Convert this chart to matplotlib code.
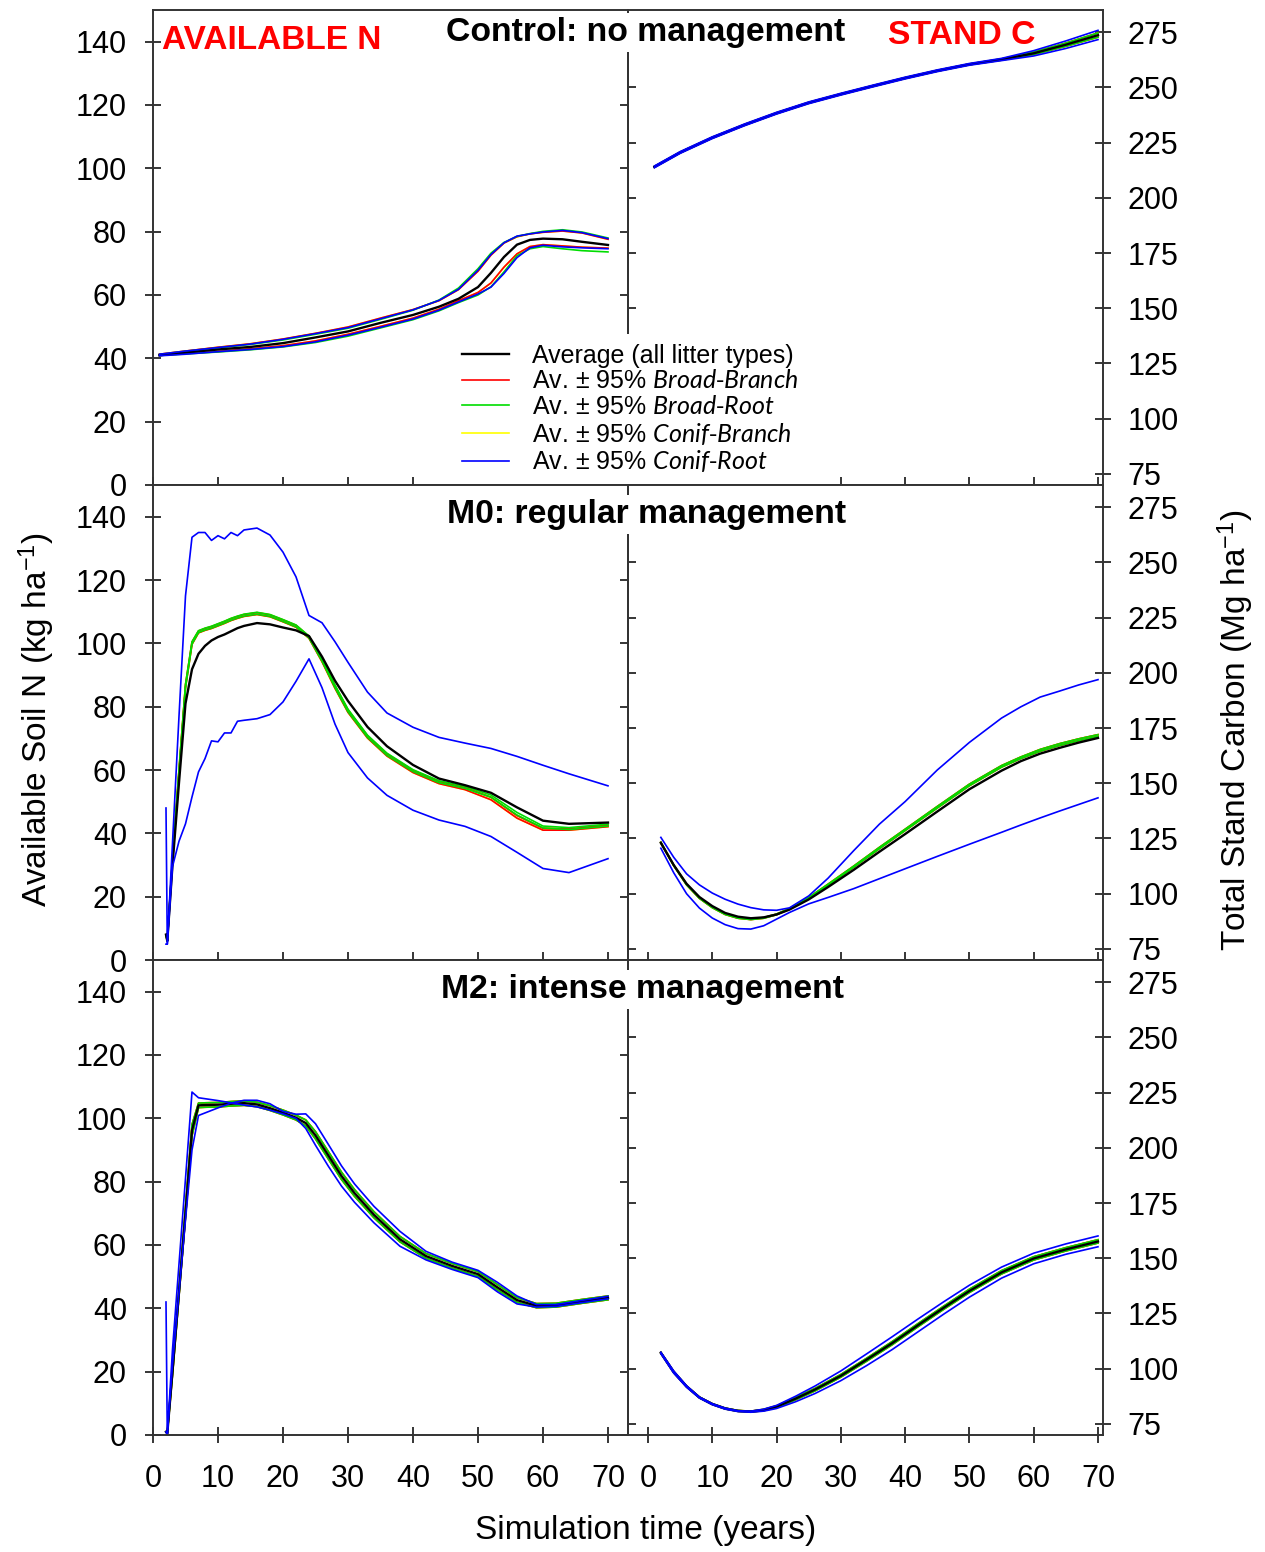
import matplotlib
matplotlib.use('Agg')
import matplotlib.pyplot as plt
from matplotlib.lines import Line2D
from matplotlib.patches import Rectangle

plt.rcParams['font.family'] = ['Liberation Sans', 'DejaVu Sans']
plt.rcParams['mathtext.fontset'] = 'custom'
plt.rcParams['mathtext.rm'] = 'Liberation Sans'
plt.rcParams['mathtext.it'] = 'Lato:italic'
plt.rcParams['mathtext.bf'] = 'Liberation Sans:bold'

# ---------------- Control: available N ----------------
ctl_nx = [1, 5, 10, 15, 20, 25, 30, 35, 40, 44, 47, 50, 52, 54, 56, 58, 60, 63, 66, 70]
ctl_n_avg = [41.0, 41.8, 42.8, 43.6, 44.8, 46.6, 48.5, 51.2, 53.7, 56.3, 58.8, 62.5, 67.0, 72.0, 75.9, 77.4, 77.8, 77.6, 76.8, 75.8]
ctl_n_red_hi = [41.3, 42.3, 43.5, 44.6, 46.1, 47.9, 49.9, 52.7, 55.4, 58.2, 61.7, 67.5, 72.6, 76.4, 78.4, 79.3, 79.8, 80.2, 79.6, 77.6]
ctl_n_red_lo = [40.9, 41.5, 42.2, 43.0, 44.0, 45.5, 47.6, 50.1, 52.7, 55.5, 58.2, 60.8, 63.8, 68.8, 73.0, 75.3, 75.9, 75.5, 75.1, 74.8]
ctl_n_green_hi = [41.2, 42.2, 43.3, 44.4, 45.8, 47.6, 49.5, 52.3, 55.2, 58.4, 62.2, 68.3, 73.2, 76.6, 78.5, 79.4, 80.1, 80.6, 79.9, 78.0]
ctl_n_green_lo = [40.9, 41.4, 42.0, 42.7, 43.6, 45.0, 47.0, 49.6, 52.2, 55.0, 57.6, 60.0, 62.6, 67.3, 72.4, 74.6, 75.3, 74.6, 74.0, 73.6]
ctl_n_yel_hi = ctl_n_red_hi   # yellow lies under the red lines
ctl_n_yel_lo = ctl_n_red_lo
ctl_n_blue_hi = [41.3, 42.3, 43.4, 44.5, 46.0, 47.8, 49.7, 52.5, 55.3, 58.3, 61.8, 67.8, 72.8, 76.5, 78.6, 79.3, 79.9, 80.4, 79.7, 77.8]
ctl_n_blue_lo = [40.8, 41.3, 42.1, 42.8, 43.7, 45.2, 47.3, 49.8, 52.4, 55.2, 57.8, 60.3, 62.5, 66.8, 71.8, 74.9, 75.7, 75.2, 74.9, 74.6]

# ---------------- Control: stand carbon ----------------
ctl_cx = [1, 5, 10, 15, 20, 25, 30, 35, 40, 45, 50, 55, 60, 65, 70]
ctl_c_avg = [214.0, 220.5, 227.2, 233.0, 238.3, 243.0, 246.9, 250.6, 254.2, 257.5, 260.4, 262.6, 265.4, 269.3, 273.6]
ctl_c_green_hi = [214.2, 220.7, 227.4, 233.2, 238.5, 243.2, 247.1, 250.8, 254.4, 257.7, 260.6, 262.9, 265.9, 270.0, 274.6]
ctl_c_green_lo = [213.8, 220.3, 227.0, 232.8, 238.1, 242.8, 246.7, 250.4, 254.0, 257.3, 260.2, 262.3, 264.9, 268.6, 272.7]
ctl_c_red_hi = ctl_c_green_hi
ctl_c_red_lo = ctl_c_green_lo
ctl_c_yel_hi = ctl_c_green_hi
ctl_c_yel_lo = ctl_c_green_lo
ctl_c_blue_hi = [214.4, 220.9, 227.6, 233.4, 238.7, 243.4, 247.3, 251.0, 254.6, 257.9, 260.8, 263.1, 266.6, 271.0, 275.8]
ctl_c_blue_lo = [213.6, 220.1, 226.8, 232.6, 237.9, 242.6, 246.5, 250.2, 253.8, 257.1, 260.0, 262.1, 264.2, 267.6, 271.6]

# ---------------- M0: available N ----------------
m0_nx = [2, 2.2, 3, 4, 5, 6, 7, 8, 9, 10, 11, 12, 13, 14, 16, 18, 20, 22, 24, 26, 28, 30, 33, 36, 40, 44, 48, 52, 56, 60, 64, 70]
m0_n_avg = [8, 6, 30, 56, 81, 91.8, 96.7, 99.2, 100.9, 102.0, 102.8, 103.8, 104.8, 105.5, 106.4, 106.0, 105.0, 104.1, 102.3, 95.8,
            88.2, 81.8, 73.6, 67.5, 61.6, 57.3, 55.2, 52.8, 48.2, 44.0, 43.0, 43.4]
m0_n_red_hi = [8, 6, 32, 60, 87, 100.4, 103.9, 104.7, 105.3, 106.1, 106.9, 107.8, 108.5, 109.1, 109.7, 109.0, 107.4, 105.7, 102.2, 95.0,
               86.6, 79.0, 70.8, 65.1, 59.9, 56.4, 54.5, 51.4, 45.6, 41.6, 41.4, 42.6]
m0_n_red_lo = [8, 6, 31, 59, 86, 99.7, 103.3, 104.1, 104.7, 105.5, 106.3, 107.2, 107.9, 108.5, 109.1, 108.4, 106.8, 105.1, 101.6, 94.2,
               85.8, 78.2, 70.1, 64.4, 59.2, 55.7, 53.8, 50.6, 44.8, 41.0, 41.0, 42.1]
m0_n_green_hi = [8, 6, 32, 60, 87, 100.5, 104.0, 104.8, 105.4, 106.2, 107.0, 107.9, 108.6, 109.2, 109.8, 109.1, 107.5, 105.8, 102.3, 95.2,
                 86.8, 79.2, 71.0, 65.3, 60.1, 56.6, 54.8, 52.1, 46.6, 42.3, 41.8, 42.9]
m0_n_green_lo = [8, 6, 31, 59, 86, 99.8, 103.4, 104.2, 104.8, 105.6, 106.4, 107.3, 108.0, 108.6, 109.2, 108.5, 106.9, 105.2, 101.7, 94.4,
                 86.0, 78.4, 70.3, 64.6, 59.5, 56.0, 54.2, 51.4, 45.8, 41.7, 41.2, 42.3]
m0_n_yel_hi = m0_n_red_hi
m0_n_yel_lo = m0_n_red_lo
m0_n_blue_hi = [48, 5, 37, 77, 115, 133.5, 135.0, 135.0, 132.5, 134.0, 133.0, 135.0, 134.0, 135.8, 136.4, 134.2, 128.8, 121.0, 108.8, 106.5,
                100.5, 94.0, 84.6, 78.0, 73.5, 70.3, 68.5, 66.8, 64.3, 61.5, 58.8, 55.0]
m0_n_blue_lo = [5, 5, 29.5, 37.5, 43, 51.5, 59.4, 63.6, 69.2, 68.9, 71.7, 71.7, 75.4, 75.7, 76.2, 77.5, 81.5, 88.0, 95.1, 86.0,
                74.5, 65.5, 57.5, 52.0, 47.3, 44.2, 42.2, 39.0, 34.0, 28.9, 27.6, 32.0]

# ---------------- M0: stand carbon ----------------
m0_cx = [2, 4, 6, 8, 10, 12, 14, 16, 18, 20, 22, 25, 28, 32, 36, 40, 45, 50, 55, 58, 61, 64, 67, 70]
m0_c_avg = [123.0, 113.0, 104.5, 98.5, 94.4, 91.3, 89.6, 88.9, 89.3, 90.6, 92.8, 97.4, 103.0, 110.8, 119.0, 127.0, 137.2, 147.3,
            155.7, 160.0, 163.4, 166.0, 168.4, 170.5]
m0_c_green_hi = [123.3, 113.0, 104.3, 98.2, 94.0, 90.9, 89.2, 88.6, 89.2, 90.8, 93.3, 98.3, 104.3, 112.5, 121.0, 129.2, 139.5, 149.6,
                 158.0, 161.9, 165.3, 167.9, 170.1, 172.0]
m0_c_green_lo = [123.0, 112.7, 104.0, 97.9, 93.7, 90.6, 88.9, 88.3, 88.9, 90.5, 93.0, 97.9, 103.8, 112.0, 120.4, 128.6, 138.8, 148.9,
                 157.3, 161.2, 164.5, 167.1, 169.3, 171.2]
m0_c_red_hi = m0_c_green_hi
m0_c_red_lo = m0_c_green_lo
m0_c_yel_hi = m0_c_green_hi
m0_c_yel_lo = m0_c_green_lo
m0_c_blue_hi = [125.5, 116.5, 109.0, 104.0, 100.3, 97.5, 95.3, 93.7, 92.7, 92.5, 93.6, 99.0, 107.0, 119.5, 131.5, 141.7, 156.0, 168.5,
                179.5, 184.6, 189.0, 191.7, 194.5, 196.9]
m0_c_blue_lo = [120.6, 109.5, 100.0, 93.5, 89.0, 86.0, 84.2, 84.0, 85.5, 88.5, 91.5, 95.4, 98.3, 102.3, 106.8, 111.3, 116.9, 122.4,
                127.8, 131.1, 134.3, 137.4, 140.4, 143.4]

# ---------------- M2: available N ----------------
m2_nx = [2, 2.2, 3, 4, 5, 6, 7, 8, 10, 12, 14, 16, 18, 20, 22, 23.5, 25, 27, 29, 31, 34, 38, 42, 46, 50, 53, 56, 59, 62, 66, 70]
m2_n_avg = [1, 0.5, 20, 45, 70, 96.2, 104.1, 104.2, 104.3, 104.6, 104.8, 104.4, 103.2, 101.8, 100.2, 98.5, 94.6, 88.2, 81.8, 76.4,
            69.5, 61.8, 56.5, 53.4, 50.8, 46.6, 42.6, 40.8, 41.0, 42.2, 43.3]
m2_n_green_hi = [1, 0.5, 21, 46, 72, 98.0, 104.8, 104.9, 105.0, 105.3, 105.5, 105.1, 104.0, 102.6, 101.0, 99.5, 95.8, 89.4, 83.0, 77.5,
                 70.5, 62.7, 57.3, 54.2, 51.6, 47.5, 43.4, 41.5, 41.6, 42.8, 43.9]
m2_n_green_lo = [1, 0.5, 19, 44, 69, 94.5, 103.4, 103.5, 103.6, 103.9, 104.1, 103.7, 102.5, 101.1, 99.5, 97.6, 93.5, 87.1, 80.7, 75.4,
                 68.6, 61.0, 55.8, 52.7, 50.1, 45.8, 41.9, 40.2, 40.4, 41.6, 42.7]
m2_n_red_hi = m2_n_green_hi
m2_n_red_lo = m2_n_green_lo
m2_n_yel_hi = m2_n_green_hi
m2_n_yel_lo = m2_n_green_lo
m2_n_blue_hi = [42, 0, 27, 54, 81, 108.3, 106.5, 106.2, 105.6, 104.9, 104.2, 103.6, 102.6, 101.4, 100.0, 96.8, 91.5, 84.8, 78.6, 73.5,
                67.0, 59.6, 55.3, 52.3, 49.7, 45.2, 41.4, 40.4, 40.6, 41.8, 43.0]
m2_n_blue_lo = [1, 0, 22, 45, 68, 90.0, 100.9, 101.7, 103.3, 104.8, 105.7, 105.7, 104.6, 102.2, 101.3, 101.4, 98.3, 91.7, 85.0, 79.3,
                72.2, 64.3, 58.0, 54.6, 52.0, 48.2, 43.9, 41.2, 41.2, 42.5, 43.8]

# ---------------- M2: stand carbon ----------------
m2_cx = [2, 4, 6, 8, 10, 12, 14, 16, 18, 20, 23, 26, 30, 34, 38, 42, 46, 50, 55, 60, 65, 70]
m2_c_avg = [107.2, 98.5, 92.0, 87.0, 84.0, 82.0, 80.9, 80.6, 81.3, 82.8, 86.5, 90.6, 96.8, 104.1, 111.6, 119.7, 127.6, 135.2,
            143.6, 149.9, 154.0, 157.6]
m2_c_green_hi = [107.4, 98.8, 92.2, 87.2, 84.2, 82.2, 81.1, 80.8, 81.6, 83.2, 87.0, 91.1, 97.4, 104.7, 112.3, 120.4, 128.3, 136.0,
                 144.4, 150.7, 154.8, 158.4]
m2_c_green_lo = [107.0, 98.2, 91.8, 86.8, 83.8, 81.8, 80.7, 80.4, 81.0, 82.4, 86.0, 90.0, 96.2, 103.4, 110.9, 119.0, 126.9, 134.5,
                 142.9, 149.2, 153.3, 156.9]
m2_c_red_hi = m2_c_green_hi
m2_c_red_lo = m2_c_green_lo
m2_c_yel_hi = m2_c_green_hi
m2_c_yel_lo = m2_c_green_lo
m2_c_blue_hi = [107.5, 99.0, 92.3, 87.2, 84.2, 82.2, 81.0, 80.8, 81.7, 83.4, 87.6, 92.2, 99.0, 106.7, 114.5, 122.5, 130.3, 137.8,
                146.0, 152.3, 156.5, 160.1]
m2_c_blue_lo = [106.8, 98.0, 91.6, 86.7, 83.7, 81.7, 80.6, 80.3, 80.8, 82.0, 85.1, 88.8, 94.6, 101.4, 108.7, 116.7, 124.7, 132.4,
                141.0, 147.5, 151.8, 155.2]

row_titles = ['Control: no management', 'M0: regular management', 'M2: intense management']
n_ticks = [0, 20, 40, 60, 80, 100, 120, 140]
c_ticks = [75, 100, 125, 150, 175, 200, 225, 250, 275]
x_ticks = [0, 10, 20, 30, 40, 50, 60, 70]

COLORS = {'yel': '#ffff00', 'red': '#ff0000', 'green': '#00dd00', 'blue': '#0000ff'}

panels_n = [
    (ctl_nx, ctl_n_avg, {'yel': (ctl_n_yel_lo, ctl_n_yel_hi), 'red': (ctl_n_red_lo, ctl_n_red_hi),
                         'green': (ctl_n_green_lo, ctl_n_green_hi), 'blue': (ctl_n_blue_lo, ctl_n_blue_hi)}),
    (m0_nx, m0_n_avg, {'yel': (m0_n_yel_lo, m0_n_yel_hi), 'red': (m0_n_red_lo, m0_n_red_hi),
                       'green': (m0_n_green_lo, m0_n_green_hi), 'blue': (m0_n_blue_lo, m0_n_blue_hi)}),
    (m2_nx, m2_n_avg, {'yel': (m2_n_yel_lo, m2_n_yel_hi), 'red': (m2_n_red_lo, m2_n_red_hi),
                       'green': (m2_n_green_lo, m2_n_green_hi), 'blue': (m2_n_blue_lo, m2_n_blue_hi)}),
]
panels_c = [
    (ctl_cx, ctl_c_avg, {'yel': (ctl_c_yel_lo, ctl_c_yel_hi), 'red': (ctl_c_red_lo, ctl_c_red_hi),
                         'green': (ctl_c_green_lo, ctl_c_green_hi), 'blue': (ctl_c_blue_lo, ctl_c_blue_hi)}),
    (m0_cx, m0_c_avg, {'yel': (m0_c_yel_lo, m0_c_yel_hi), 'red': (m0_c_red_lo, m0_c_red_hi),
                       'green': (m0_c_green_lo, m0_c_green_hi), 'blue': (m0_c_blue_lo, m0_c_blue_hi)}),
    (m2_cx, m2_c_avg, {'yel': (m2_c_yel_lo, m2_c_yel_hi), 'red': (m2_c_red_lo, m2_c_red_hi),
                       'green': (m2_c_green_lo, m2_c_green_hi), 'blue': (m2_c_blue_lo, m2_c_blue_hi)}),
]


def draw(ax, x, avg, bands):
    for key in ['yel', 'red', 'green']:
        lo, hi = bands[key]
        ax.plot(x, lo, color=COLORS[key], lw=1.2)
        ax.plot(x, hi, color=COLORS[key], lw=1.2)
    ax.plot(x, avg, color='black', lw=1.7)
    lo, hi = bands['blue']
    ax.plot(x, lo, color=COLORS['blue'], lw=1.2)
    ax.plot(x, hi, color=COLORS['blue'], lw=1.2)


fig = plt.figure(figsize=(12.65, 15.52), dpi=100)
W, H = 1265.0, 1552.0
row_px = [(10, 485), (485, 960), (960, 1435)]
spine_col = '#333333'
TL = 11.5  # inout tick length (pt)

for r in range(3):
    top, bot = row_px[r]
    y0 = 1 - bot / H
    h = (bot - top) / H
    axl = fig.add_axes([153 / W, y0, 475 / W, h])
    axr = fig.add_axes([628 / W, y0, 475 / W, h])

    draw(axl, *panels_n[r])
    draw(axr, *panels_c[r])

    axl.set_xlim(0, 73.08)
    axl.set_ylim(0, 150)
    axr.set_xlim(-3.11, 70.78)
    axr.set_ylim(70, 285)

    for ax in (axl, axr):
        for s in ax.spines.values():
            s.set_color(spine_col)
            s.set_linewidth(1.4)
        ax.set_xticks(x_ticks)
        if r == 2:
            ax.tick_params(axis='x', direction='inout', length=TL, width=1.1, labelsize=22, pad=15)
        else:
            ax.tick_params(axis='x', direction='in', length=TL / 2, width=1.1, labelbottom=False)

    axl.set_yticks(n_ticks)
    axl.tick_params(axis='y', direction='inout', length=TL, width=1.1, labelsize=22, pad=13,
                    left=True, right=False)
    sl = axl.secondary_yaxis('right')
    sl.set_yticks(n_ticks)
    sl.tick_params(axis='y', direction='in', length=TL / 2, width=1.1, labelright=False)
    sl.spines['right'].set_color(spine_col)
    sl.spines['right'].set_linewidth(1.4)

    axr.set_yticks(c_ticks)
    axr.yaxis.tick_right()
    axr.tick_params(axis='y', direction='inout', length=TL, width=1.1, labelsize=22, pad=12,
                    left=False, right=True)
    sr = axr.secondary_yaxis('left')
    sr.set_yticks(c_ticks)
    sr.tick_params(axis='y', direction='in', length=TL / 2, width=1.1, labelleft=False)
    sr.spines['left'].set_color(spine_col)
    sr.spines['left'].set_linewidth(1.4)

# row titles with white boxes over the divider
title_base = [41, 523, 998]
title_cx = [646, 647, 643]
for t, b, cx in zip(row_titles, title_base, title_cx):
    fig.text(cx / W, 1 - b / H, t, ha='center', va='baseline', fontsize=24.3, fontweight='bold',
             bbox=dict(facecolor='white', edgecolor='none', pad=3), zorder=10)

fig.text(162 / W, 1 - 49 / H, 'AVAILABLE N', color='#ff0000', fontsize=24, fontweight='bold',
         ha='left', va='baseline')
fig.text(888 / W, 1 - 44.5 / H, 'STAND C', color='#ff0000', fontsize=24.3, fontweight='bold',
         ha='left', va='baseline')

fig.text(37 / W, 1 - 720 / H, 'Available Soil N (kg ha$^{-1}$)', rotation=90, ha='center', va='center',
         fontsize=24)
fig.text(1236 / W, 1 - 730 / H, 'Total Stand Carbon (Mg ha$^{-1}$)', rotation=90, ha='center', va='center',
         fontsize=24)
fig.text(646 / W, 1 - 1530 / H, 'Simulation time (years)', ha='center', va='center', fontsize=24)

# white area behind the legend, hiding the divider as in the source figure
fig.patches.append(Rectangle((454 / W, 1 - 484 / H), 360 / W, 150 / H, transform=fig.transFigure,
                             facecolor='white', edgecolor='none', zorder=15))

handles = [Line2D([], [], color='black', lw=1.7),
           Line2D([], [], color=COLORS['red'], lw=1.2),
           Line2D([], [], color=COLORS['green'], lw=1.2),
           Line2D([], [], color=COLORS['yel'], lw=1.2),
           Line2D([], [], color=COLORS['blue'], lw=1.2)]
labels = ['Average (all litter types)',
          'Av. \u00b1 95% $\\mathit{Broad}$-$\\mathit{Branch}$',
          'Av. \u00b1 95% $\\mathit{Broad}$-$\\mathit{Root}$',
          'Av. \u00b1 95% $\\mathit{Conif}$-$\\mathit{Branch}$',
          'Av. \u00b1 95% $\\mathit{Conif}$-$\\mathit{Root}$']
leg = fig.legend(handles, labels, loc='upper left', bbox_to_anchor=(454 / W, 1 - 336 / H),
                 fontsize=18, frameon=True, fancybox=False, edgecolor='none', facecolor='white',
                 framealpha=1, handlelength=1.9, handletextpad=0.9, labelspacing=0.07,
                 borderpad=0.3, borderaxespad=0)
leg.set_zorder(20)

fig.savefig('out.png', dpi=100, facecolor='white')
